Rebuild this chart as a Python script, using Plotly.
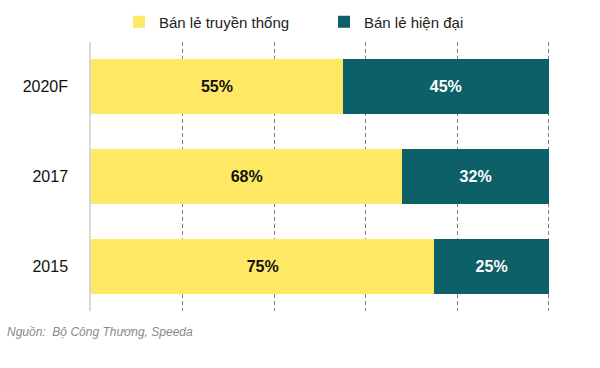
import plotly.graph_objects as go

years = ["2015", "2017", "2020F"]
traditional = [75, 68, 55]
modern = [25, 32, 45]
series_names = ["Bán lẻ truyền thống", "Bán lẻ hiện đại"]
x_ticks = [0, 20, 40, 60, 80, 100]

YELLOW = "#FFE964"
TEAL = "#0D5F68"

fig = go.Figure()
fig.add_trace(go.Bar(
    y=years, x=traditional, orientation="h", name=series_names[0],
    marker=dict(color=YELLOW, line=dict(width=0)),
    texttemplate="<b>%{x}%</b>", textposition="inside", insidetextanchor="middle",
    textfont=dict(color="#111111", size=16, family="Liberation Sans, Arial"),
))
fig.add_trace(go.Bar(
    y=years, x=modern, orientation="h", name=series_names[1],
    marker=dict(color=TEAL, line=dict(width=0)),
    texttemplate="<b>%{x}%</b>", textposition="inside", insidetextanchor="middle",
    textfont=dict(color="#FFFFFF", size=16, family="Liberation Sans, Arial"),
))

fig.update_layout(
    width=600, height=368,
    barmode="stack", bargap=0.385,
    plot_bgcolor="white", paper_bgcolor="white",
    margin=dict(l=91, r=50, t=42, b=57, pad=0, autoexpand=False),
    font=dict(family="Liberation Sans, Arial", size=13, color="#222222"),
    showlegend=True,
    legend=dict(
        orientation="h", x=119/600, xref="container", xanchor="left",
        y=0.985, yanchor="top", yref="container",
        entrywidth=160, entrywidthmode="pixels",
        font=dict(size=15, color="#222222"), itemwidth=30,
        traceorder="normal", bgcolor="rgba(0,0,0,0)",
    ),
    xaxis=dict(
        range=[0, 100.25], tickvals=x_ticks, showticklabels=False,
        showgrid=True, gridcolor="#808080", griddash="4px,3px", gridwidth=1.3,
        zeroline=False, showline=False, fixedrange=True, automargin=False,
    ),
    yaxis=dict(
        categoryorder="array", categoryarray=years,
        range=[-0.5, 2.5], automargin=False, fixedrange=True,
        showline=True, linecolor="#d9d9d9", linewidth=1.5,
        showgrid=False, zeroline=False,
        ticks="", ticklabelstandoff=18,
        tickfont=dict(size=16, color="#111111"),
    ),
)
fig.add_annotation(
    text="<i>Nguồn:  Bộ Công Thương, Speeda</i>",
    xref="paper", yref="paper", x=-86/459, y=-0.045, xanchor="left", yanchor="top",
    showarrow=False, font=dict(size=12, color="#8a8a8a", family="Liberation Sans, Arial"),
)
post = ("document.body.style.margin='0px';document.body.style.overflow='hidden';"
        "Plotly.relayout('{plot_id}', {width:600, height:368});")
fig.write_html("out.html", post_script=post, config={"displayModeBar": False})
